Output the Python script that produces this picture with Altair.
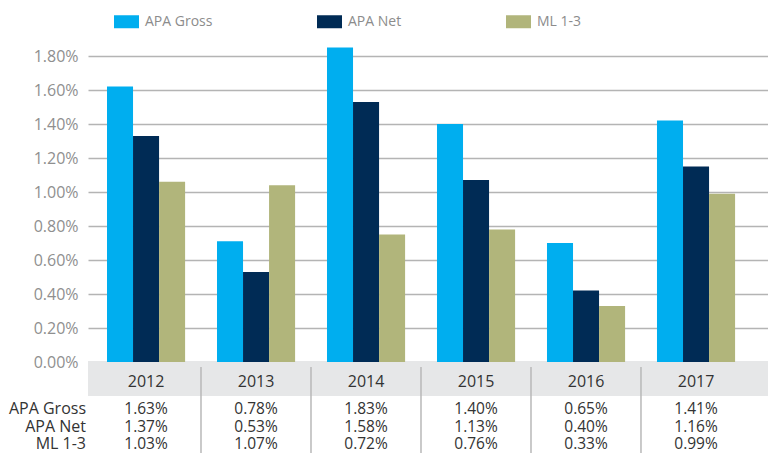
import altair as alt
import pandas as pd

years = ["2012", "2013", "2014", "2015", "2016", "2017"]
series = ["APA Gross", "APA Net", "ML 1-3"]

# bar heights (percent) as drawn
gross_bar = [1.62, 0.71, 1.85, 1.40, 0.70, 1.42]
net_bar = [1.33, 0.53, 1.53, 1.07, 0.42, 1.15]
ml_bar = [1.06, 1.04, 0.75, 0.78, 0.33, 0.99]

# table labels as printed
tbl_gross = ["1.63%", "0.78%", "1.83%", "1.40%", "0.65%", "1.41%"]
tbl_net = ["1.37%", "0.53%", "1.58%", "1.13%", "0.40%", "1.16%"]
tbl_ml = ["1.03%", "1.07%", "0.72%", "0.76%", "0.33%", "0.99%"]

y_ticks = [0.0, 0.2, 0.4, 0.6, 0.8, 1.0, 1.2, 1.4, 1.6, 1.8]
colors = ["#00AEEF", "#002B55", "#B1B57B"]

W, H = 680, 323
FONT = "Open Sans"

rows = []
for s, vals in zip(series, [gross_bar, net_bar, ml_bar]):
    for yr, v in zip(years, vals):
        rows.append({"year": yr, "series": s, "value": v})
df_bars = pd.DataFrame(rows)

trows = []
for s, vals in zip(series, [tbl_gross, tbl_net, tbl_ml]):
    for yr, v in zip(years, vals):
        trows.append({"year": yr, "row": s, "label": v})
df_tbl = pd.DataFrame(trows)

df_years = pd.DataFrame({"year": years})
df_rows = pd.DataFrame({"row": series})

xscale = alt.Scale(domain=years, paddingInner=0.29, paddingOuter=0.236, align=0.366)


def X(**kw):
    return alt.X("year:N", scale=xscale, axis=None, **kw)


band = alt.Chart(pd.DataFrame({"k": [0]})).mark_rect(color="#E6E7E8").encode(
    x=alt.value(0), x2=alt.value(W + 10), y=alt.value(H - 1), y2=alt.value(H + 34)
)

bars = alt.Chart(df_bars).mark_bar().encode(
    x=X(),
    xOffset=alt.XOffset("series:N", sort=series,
                        scale=alt.Scale(domain=series, paddingInner=0, paddingOuter=0)),
    y=alt.Y("value:Q",
            scale=alt.Scale(domain=[0, 1.9], nice=False, zero=True),
            axis=alt.Axis(values=y_ticks, title=None, domain=False, ticks=False,
                          grid=True, gridColor="#B4B4B4", gridWidth=1.5,
                          labelExpr="format(datum.value, '.2f') + '%'",
                          labelFont=FONT, labelFontSize=16, labelColor="#8F8F8F",
                          labelPadding=10)),
    color=alt.Color("series:N", sort=series,
                    scale=alt.Scale(domain=series, range=colors),
                    legend=alt.Legend(title=None, orient="none", direction="horizontal",
                                      legendX=26, legendY=-30,
                                      symbolType="M-1,-0.52H1V0.52H-1Z", symbolSize=625,
                                      symbolStrokeWidth=0, symbolOpacity=1,
                                      labelFont=FONT, labelFontSize=14, labelColor="#8C8C8C",
                                      labelOffset=6, columnPadding=104, padding=0)),
)

seps = alt.Chart(df_years).transform_filter(
    "datum.year != '2012'"
).mark_rule(color="#B8B8B8", strokeWidth=1.5, xOffset=-16).encode(
    x=X(bandPosition=0), y=alt.value(H + 5), y2=alt.value(H + 95)
)

year_txt = alt.Chart(df_years).mark_text(
    font=FONT, fontSize=16, color="#333333", baseline="alphabetic"
).encode(x=X(), y=alt.value(H + 24.7), text="year:N")

layers = [band, bars, seps, year_txt]

row_y = [H + 52, H + 69.5, H + 86.5]
for s, yy in zip(series, row_y):
    layers.append(
        alt.Chart(df_tbl).transform_filter(alt.datum.row == s).mark_text(
            font=FONT, fontSize=15.5, color="#333333", baseline="alphabetic"
        ).encode(x=X(), y=alt.value(yy), text="label:N")
    )
    layers.append(
        alt.Chart(df_rows).transform_filter(alt.datum.row == s).mark_text(
            font=FONT, fontSize=16, color="#333333", baseline="alphabetic", align="right"
        ).encode(x=alt.value(-2), y=alt.value(yy), text="row:N")
    )

chart = alt.layer(*layers).properties(
    width=W, height=H,
    autosize=alt.AutoSizeParams(type="none"),
    padding={"left": 80, "top": 31, "right": 0, "bottom": 98},
    background="white",
).configure_view(stroke=None)

chart.save("out.html", embed_options={"renderer": "svg", "actions": False})
